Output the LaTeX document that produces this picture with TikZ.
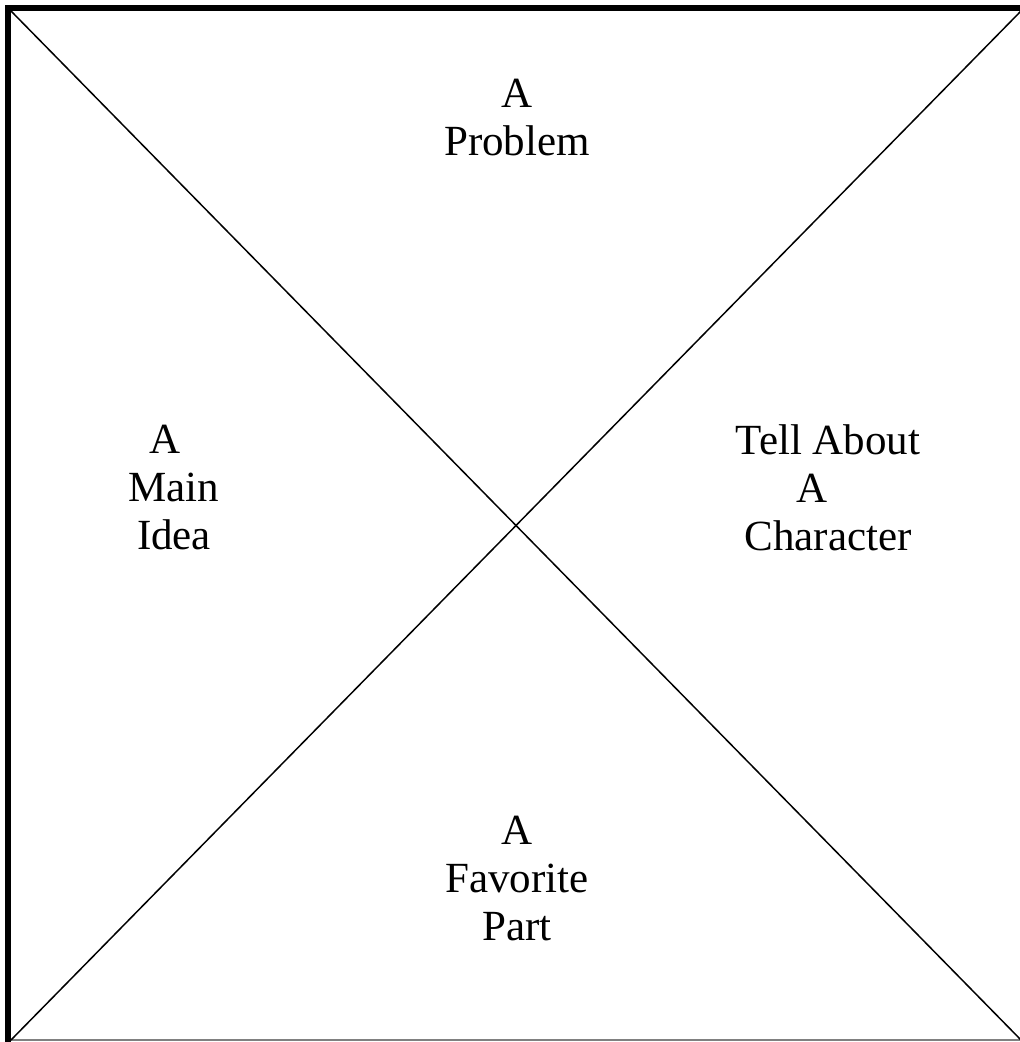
\documentclass[tikz,border=0pt]{standalone}
\usepackage{fontspec}
\setmainfont{Liberation Serif}
\usepackage{tikz}
\usetikzlibrary{positioning}

\begin{document}
\begin{tikzpicture}[
    x=0.5pt, y=-0.5pt,
    label/.style={align=center, font=\fontsize{21.5}{24}\selectfont, inner sep=0pt},
    frame/.style={line width=3pt, line cap=rect},
    diag/.style={line width=0.75pt, draw=black}
]
\useasboundingbox (0,0) rectangle (1020,1042);

% Corners of the square
\coordinate (tl) at (11,11);
\coordinate (tr) at (1021,11);
\coordinate (bl) at (11,1040);
\coordinate (br) at (1021,1040);
\coordinate (ftl) at (8,8);
\coordinate (ftr) at (1021,8);
\coordinate (fbl) at (8,1042);

% Frame
\draw[frame] (fbl) -- (ftl) -- (ftr);
\draw[gray, line width=0.6pt] (bl) -- (br);

% Diagonals
\draw[diag] (tl) -- (br);
\draw[diag] (bl) -- (tr);

% Labels
\node[label] (problem) at (517,118) {A\\Problem};
\node[label] (idea) at (174,488) {A\kern9pt\\Main\\Idea};
\node[label] (character) at (828,488) {Tell About\\A\kern16pt\\Character};
\node[label] (part) at (517,879) {A\\Favorite\\Part};

\end{tikzpicture}
\end{document}
